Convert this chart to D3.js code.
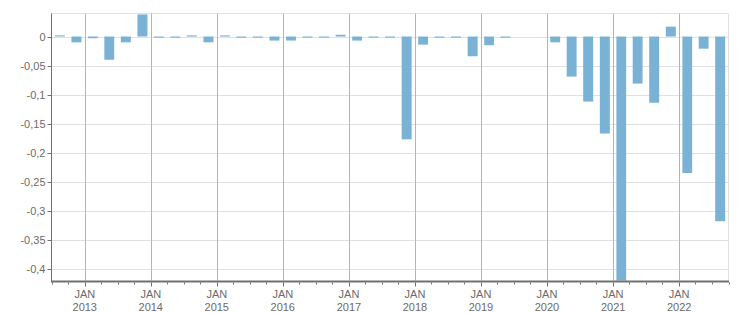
<!DOCTYPE html>
<html>
<head>
<meta charset="utf-8">
<script src="https://cdn.jsdelivr.net/npm/d3@7"></script>
<style>
  html, body { margin:0; padding:0; background:#fff; }
  svg { display:block; font-family:"Liberation Sans", Arial, sans-serif; }
</style>
</head>
<body>
<div id="chart"></div>
<script>
// quarterly values, Q3 2012 .. Q3 2022
const quarters = [
  '2012-07','2012-10',
  '2013-01','2013-04','2013-07','2013-10',
  '2014-01','2014-04','2014-07','2014-10',
  '2015-01','2015-04','2015-07','2015-10',
  '2016-01','2016-04','2016-07','2016-10',
  '2017-01','2017-04','2017-07','2017-10',
  '2018-01','2018-04','2018-07','2018-10',
  '2019-01','2019-04','2019-07','2019-10',
  '2020-01','2020-04','2020-07','2020-10',
  '2021-01','2021-04','2021-07','2021-10',
  '2022-01','2022-04','2022-07'
];
const values = [
  0.002, -0.010,
  -0.003, -0.040, -0.010, 0.038,
  -0.002, -0.002, 0.002, -0.010,
  0.002, -0.002, -0.002, -0.007,
  -0.007, -0.002, -0.002, 0.003,
  -0.007, -0.002, -0.002, -0.177,
  -0.014, -0.002, -0.002, -0.034,
  -0.015, -0.002, 0, 0,
  -0.010, -0.069, -0.112, -0.167,
  -0.450, -0.081, -0.114, 0.017,
  -0.235, -0.021, -0.318
];
const yTicks = [0, -0.05, -0.1, -0.15, -0.2, -0.25, -0.3, -0.35, -0.4];
const xDomain = ['2012-07-01', '2022-10-01'];
const yDomain = [-0.42, 0.0396];

(function(){
  const W = 751, H = 313;
  const margin = {top:13.5, right:22.5, bottom:32, left:51.5};
  const parse = d3.timeParse('%Y-%m');
  const data = quarters.map((q,i) => ({start: parse(q), end: d3.timeMonth.offset(parse(q), 3), v: values[i]}));

  const svg = d3.select('#chart').append('svg')
    .attr('width', W).attr('height', H);

  const x = d3.scaleTime()
    .domain(xDomain.map(d => new Date(d + 'T00:00:00')))
    .range([margin.left, W - margin.right]);
  const y = d3.scaleLinear()
    .domain(yDomain)
    .range([H - margin.bottom + 0.5 - 1, margin.top]);

  const x0 = margin.left, x1 = W - margin.right;
  const yTop = margin.top, yBot = y(yDomain[0]);
  const labelColor = '#6e6a6a';

  // horizontal grid
  svg.append('g').selectAll('line').data(yTicks).join('line')
    .attr('x1', x0).attr('x2', x1)
    .attr('y1', d => Math.round(y(d)) + 0.5).attr('y2', d => Math.round(y(d)) + 0.5)
    .attr('stroke', '#e0e0e0');

  // top + right frame
  svg.append('line').attr('x1', x0).attr('x2', x1).attr('y1', yTop).attr('y2', yTop).attr('stroke', '#e0e0e0');
  svg.append('line').attr('x1', x1).attr('x2', x1).attr('y1', yTop).attr('y2', yBot).attr('stroke', '#e0e0e0');

  // vertical year grid
  const years = d3.timeYear.range(d3.timeYear.ceil(x.domain()[0]), x.domain()[1]);
  svg.append('g').selectAll('line').data(years).join('line')
    .attr('x1', d => Math.round(x(d)) + 0.5).attr('x2', d => Math.round(x(d)) + 0.5)
    .attr('y1', yTop).attr('y2', yBot)
    .attr('stroke', '#b4b4b4');

  // bars
  svg.append('defs').append('clipPath').attr('id', 'clip')
    .append('rect').attr('x', x0).attr('y', yTop).attr('width', x1 - x0).attr('height', yBot - yTop);
  const bw = 0.6;
  svg.append('g').attr('clip-path', 'url(#clip)')
    .selectAll('rect').data(data).join('rect')
    .attr('x', d => { const a = x(d.start), b = x(d.end); return a + (b - a) * (1 - bw) / 2; })
    .attr('width', d => (x(d.end) - x(d.start)) * bw)
    .attr('y', d => y(Math.max(0, d.v)))
    .attr('height', d => Math.abs(y(d.v) - y(0)))
    .attr('fill', '#79b2d4');

  // left axis
  svg.append('line').attr('x1', x0).attr('x2', x0).attr('y1', yTop).attr('y2', yBot + 1).attr('stroke', '#707070');
  const yl = svg.append('g').selectAll('g').data(yTicks).join('g')
    .attr('transform', d => `translate(0,${Math.round(y(d)) + 0.5})`);
  yl.append('line').attr('x1', x0 - 4).attr('x2', x0).attr('stroke', '#707070');
  yl.append('text')
    .attr('x', x0 - 6).attr('dy', '0.36em')
    .attr('text-anchor', 'end').attr('font-size', 11).attr('fill', labelColor)
    .text(d => d === 0 ? '0' : d3.format('.2~f')(d).replace('.', ',').replace('−', '-'));

  // bottom axis
  svg.append('line').attr('x1', x0 - 0.5).attr('x2', x1 + 0.5).attr('y1', yBot + 1).attr('y2', yBot + 1)
    .attr('stroke', '#707070').attr('stroke-width', 2);
  const qTicks = d3.timeMonth.every(3).range(x.domain()[0], d3.timeDay.offset(x.domain()[1], 1));
  svg.append('g').selectAll('line').data(qTicks).join('line')
    .attr('x1', d => Math.round(x(d)) + 0.5).attr('x2', d => Math.round(x(d)) + 0.5)
    .attr('y1', yBot + 2).attr('y2', d => yBot + (d.getMonth() === 0 ? 6 : 4))
    .attr('stroke', '#707070');

  const xl = svg.append('g').selectAll('text').data(years).join('text')
    .attr('x', d => x(d)).attr('text-anchor', 'middle')
    .attr('font-size', 11).attr('fill', labelColor);
  xl.append('tspan').attr('x', d => x(d)).attr('y', yBot + 17).text('JAN');
  xl.append('tspan').attr('x', d => x(d)).attr('y', yBot + 30).text(d => d.getFullYear());
})();
</script>
</body>
</html>
